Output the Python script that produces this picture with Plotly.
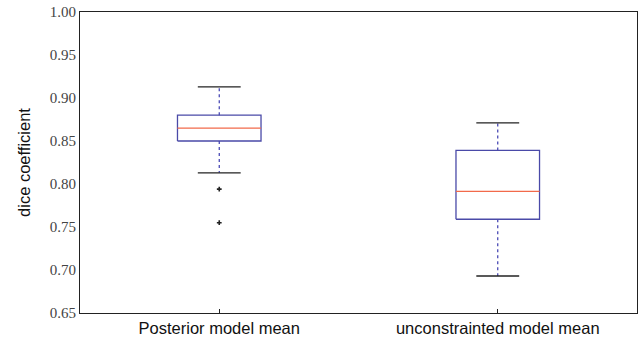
import plotly.graph_objects as go

categories = ["Posterior model mean", "unconstrainted model mean"]
positions = [1, 2]
lower_whisker = [0.813, 0.693]
q1 = [0.850, 0.759]
median = [0.865, 0.7915]
q3 = [0.880, 0.839]
upper_whisker = [0.913, 0.871]
outliers = [[0.794, 0.755], []]
y_ticks = [0.65, 0.70, 0.75, 0.80, 0.85, 0.90, 0.95, 1.00]

BOX_HALF = 0.15
CAP_HALF = 0.077

box_x, box_y = [], []
med_x, med_y = [], []
wh_x, wh_y = [], []
cap_x, cap_y = [], []
fl_x, fl_y = [], []
for i, p in enumerate(positions):
    box_x += [p - BOX_HALF, p + BOX_HALF, p + BOX_HALF, p - BOX_HALF, p - BOX_HALF, None]
    box_y += [q1[i], q1[i], q3[i], q3[i], q1[i], None]
    med_x += [p - BOX_HALF, p + BOX_HALF, None]
    med_y += [median[i], median[i], None]
    wh_x += [p, p, None, p, p, None]
    wh_y += [q3[i], upper_whisker[i], None, q1[i], lower_whisker[i], None]
    cap_x += [p - CAP_HALF, p + CAP_HALF, None, p - CAP_HALF, p + CAP_HALF, None]
    cap_y += [upper_whisker[i], upper_whisker[i], None, lower_whisker[i], lower_whisker[i], None]
    for o in outliers[i]:
        fl_x.append(p)
        fl_y.append(o)

fig = go.Figure()
fig.add_trace(go.Scatter(x=wh_x, y=wh_y, mode="lines",
                         line=dict(color="#3c3cb0", width=1.2, dash="dot"), hoverinfo="skip"))
fig.add_trace(go.Scatter(x=cap_x, y=cap_y, mode="lines",
                         line=dict(color="#222222", width=1.3), hoverinfo="skip"))
fig.add_trace(go.Scatter(x=box_x, y=box_y, mode="lines",
                         line=dict(color="#4a4aa8", width=1.3), hoverinfo="skip"))
fig.add_trace(go.Scatter(x=med_x, y=med_y, mode="lines",
                         line=dict(color="#f26a4a", width=1.3), hoverinfo="skip"))
fig.add_trace(go.Scatter(x=fl_x, y=fl_y, mode="markers",
                         marker=dict(symbol="cross", size=4, color="#222222"), hoverinfo="skip"))

fig.update_layout(
    width=641, height=346,
    margin=dict(l=80, r=4, t=12, b=33),
    plot_bgcolor="white", paper_bgcolor="white",
    showlegend=False,
    xaxis=dict(range=[0.5, 2.5], tickvals=positions, ticktext=categories,
               showgrid=False, zeroline=False, showline=True, linecolor="#222222",
               linewidth=1, mirror=True, ticks="inside", ticklen=4, tickcolor="#222222",
               tickfont=dict(family="Liberation Sans, Arial, sans-serif", size=16.5, color="#111111")),
    yaxis=dict(range=[0.65, 1.00], tickvals=y_ticks, tickformat=".2f",
               showgrid=False, zeroline=False, showline=True, linecolor="#222222",
               linewidth=1, mirror=True, ticks="", ticklen=4,
               tickfont=dict(family="Liberation Serif, serif", size=15, color="#444444"),
               title=dict(text="dice coefficient", standoff=14,
                          font=dict(family="Liberation Sans, Arial, sans-serif", size=16.5, color="#111111"))),
)

fig.write_html("out.html", config={"displayModeBar": False},
               post_script="document.body.style.margin='0';")
